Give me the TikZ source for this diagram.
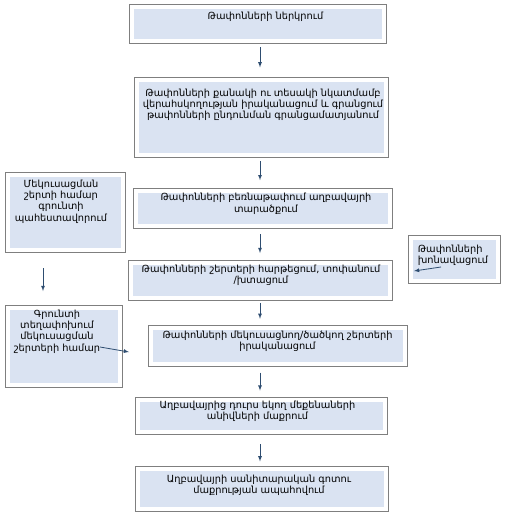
\documentclass[tikz,border=0pt]{standalone}
\usepackage{fontspec}
\setmainfont{DejaVu Sans}
\usetikzlibrary{positioning}
\definecolor{boxline}{HTML}{7F7F7F}
\definecolor{boxfill}{HTML}{DAE3F2}
\definecolor{arrline}{HTML}{2E4D70}

\begin{document}
\begin{tikzpicture}[x=1pt,y=-1pt,
    box/.style={draw=boxline,fill=white,line width=0.8pt,inner sep=0pt,
      path picture={\fill[boxfill] ([shift={(4.5pt,-4.5pt)}]path picture bounding box.north west)
        rectangle ([shift={(-4.5pt,4.5pt)}]path picture bounding box.south east);}},
    txt/.style={align=center,inner sep=0pt,font=\fontsize{9.8}{11.3}\selectfont},
    arr/.style={draw=arrline,line width=0.8pt,-latex}]
  \useasboundingbox (0,0) rectangle (508,512);

  % main column
  \node[box,minimum width=257pt,minimum height=39pt] (b1) at (257.5,23.5) {};
  \node[box,minimum width=254pt,minimum height=80pt,below=34pt of b1,xshift=3.5pt] (b2) {};
  \node[box,minimum width=259pt,minimum height=40pt,below=30pt of b2,xshift=1.5pt] (b3) {};
  \node[box,minimum width=264pt,minimum height=40pt,below=31pt of b3,xshift=-2.5pt] (b5) {};
  \node[box,minimum width=259pt,minimum height=41pt,below=24pt of b5,xshift=17.5pt] (b8) {};
  \node[box,minimum width=252pt,minimum height=37pt,below=30pt of b8,xshift=-16.5pt] (b9) {};
  \node[box,minimum width=253pt,minimum height=45pt,below=32pt of b9,xshift=0.5pt] (b10) {};
  % side boxes
  \node[box,minimum width=120pt,minimum height=80pt] (b4) at (65,212) {};
  \node[box,minimum width=92pt,minimum height=48pt] (b6) at (454,259) {};
  \node[box,minimum width=117pt,minimum height=82pt] (b7) at (63.5,346) {};

  \node[txt,below=8pt of b1.north,xshift=8pt] (t1) {Թափոնների ներկրում};
  \node[txt,below=11pt of b2.north,xshift=2pt] (t2) {Թափոնների քանակի ու տեսակի նկատմամբ\\
    վերահսկողության իրականացում և գրանցում\\թափոնների ընդունման գրանցամատյանում};
  \node[txt,below=5pt of b3.north,xshift=3.5pt] (t3) {Թափոնների բեռնաթափում աղբավայրի\\տարածքում};
  \node[txt,below=8pt of b4.north,xshift=-4pt] (t4) {Մեկուսացման\\շերտի համար\\գրունտի\\պահեստավորում};
  \node[txt,below=5pt of b5.north,xshift=1pt] (t5) {Թափոնների շերտերի հարթեցում, տոփանում\\/խտացում};
  \node[txt,align=left,below right=10pt and 10pt of b6.north west] (t6) {Թափոնների\\խոնավացում};
  \node[txt,below=5pt of b7.north,xshift=-6.5pt] (t7) {Գրունտի\\տեղափոխում\\մեկուսացման\\շերտերի համար};
  \node[txt,below=6pt of b8.north] (t8) {Թափոնների մեկուսացնող/ծածկող շերտերի\\իրականացում};
  \node[txt,below=4pt of b9.north,xshift=-3.5pt] (t9) {Աղբավայրից դուրս եկող մեքենաների\\անիվների մաքրում};
  \node[txt,below=8pt of b10.north,xshift=-2.5pt] (t10) {Աղբավայրի սանիտարական գոտու\\մաքրության ապահովում};

  \coordinate (ax) at (260,0);
  \draw[arr,shorten <=4pt,shorten >=10pt] (b1.south -| ax) -- (b2.north -| ax);
  \draw[arr,shorten <=3pt,shorten >=8pt] (b2.south -| ax) -- (b3.north -| ax);
  \draw[arr,shorten <=5pt,shorten >=7pt] (b3.south -| ax) -- (b5.north -| ax);
  \draw[arr,shorten <=2pt,shorten >=6pt] (b5.south -| ax) -- (b8.north -| ax);
  \draw[arr,shorten <=6pt,shorten >=6pt] (b8.south -| ax) -- (b9.north -| ax);
  \draw[arr,shorten <=10pt,shorten >=5pt] (b9.south -| ax) -- (b10.north -| ax);

  % loose arrows
  \coordinate (l1) at (43,268);
  \coordinate (l2) at (43,291);
  \draw[arr] (l1) -- (l2);
  \coordinate (r1) at (441,267);
  \coordinate (r2) at (414,271);
  \draw[arr] (r1) -- (r2);
  \coordinate (g1) at (100,347);
  \coordinate (g2) at (129,352);
  \draw[arr] (g1) -- (g2);
\end{tikzpicture}
\end{document}
